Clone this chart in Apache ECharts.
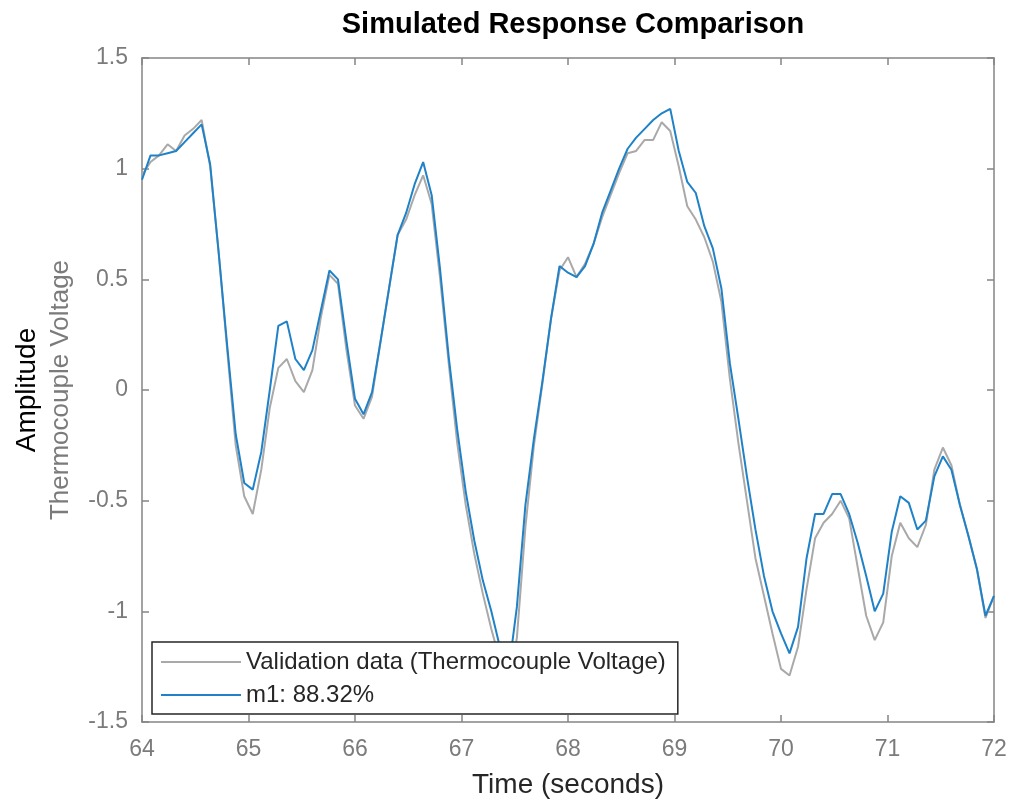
<!DOCTYPE html>
<html>
<head>
<meta charset="utf-8">
<script src="https://cdn.jsdelivr.net/npm/echarts@6/dist/echarts.min.js"></script>
<style>
  html, body { margin: 0; padding: 0; background: #fff; }
  #main { width: 1013px; height: 804px; }
</style>
</head>
<body>
<div id="main"></div>
<script>
// time axis (seconds), sample step 0.08 s
var timeSec = [
  64.00, 64.08, 64.16, 64.24, 64.32, 64.40, 64.48, 64.56, 64.64, 64.72,
  64.80, 64.88, 64.96, 65.04, 65.12, 65.20, 65.28, 65.36, 65.44, 65.52,
  65.60, 65.68, 65.76, 65.84, 65.92, 66.00, 66.08, 66.16, 66.24, 66.32,
  66.40, 66.48, 66.56, 66.64, 66.72, 66.80, 66.88, 66.96, 67.04, 67.12,
  67.20, 67.28, 67.36, 67.44, 67.52, 67.60, 67.68, 67.76, 67.84, 67.92,
  68.00, 68.08, 68.16, 68.24, 68.32, 68.40, 68.48, 68.56, 68.64, 68.72,
  68.80, 68.88, 68.96, 69.04, 69.12, 69.20, 69.28, 69.36, 69.44, 69.52,
  69.60, 69.68, 69.76, 69.84, 69.92, 70.00, 70.08, 70.16, 70.24, 70.32,
  70.40, 70.48, 70.56, 70.64, 70.72, 70.80, 70.88, 70.96, 71.04, 71.12,
  71.20, 71.28, 71.36, 71.44, 71.52, 71.60, 71.68, 71.76, 71.84, 71.92,
  72.00
];

// Validation data (Thermocouple Voltage)
var validation = [
  0.97, 1.03, 1.06, 1.11, 1.08, 1.15, 1.18, 1.22, 1.01, 0.62,
  0.18, -0.25, -0.48, -0.56, -0.36, -0.08, 0.10, 0.14, 0.04, -0.01,
  0.09, 0.33, 0.52, 0.48, 0.18, -0.07, -0.13, -0.03, 0.22, 0.46,
  0.70, 0.77, 0.88, 0.97, 0.84, 0.50, 0.12, -0.24, -0.52, -0.74,
  -0.92, -1.08, -1.22, -1.34, -1.12, -0.62, -0.25, 0.03, 0.32, 0.54,
  0.60, 0.51, 0.57, 0.66, 0.78, 0.88, 0.98, 1.07, 1.08, 1.13,
  1.13, 1.21, 1.17, 1.01, 0.83, 0.77, 0.69, 0.58, 0.40, 0.05,
  -0.24, -0.50, -0.76, -0.93, -1.10, -1.26, -1.29, -1.16, -0.90, -0.67,
  -0.60, -0.56, -0.50, -0.58, -0.80, -1.02, -1.13, -1.05, -0.75, -0.60,
  -0.67, -0.71, -0.61, -0.36, -0.26, -0.34, -0.52, -0.66, -0.81, -1.03,
  -0.93
];

// m1 simulated response
var m1 = [
  0.95, 1.06, 1.06, 1.07, 1.08, 1.12, 1.16, 1.20, 1.02, 0.62,
  0.20, -0.20, -0.42, -0.45, -0.28, 0.00, 0.29, 0.31, 0.14, 0.09,
  0.18, 0.36, 0.54, 0.50, 0.22, -0.04, -0.11, -0.01, 0.22, 0.46,
  0.70, 0.80, 0.93, 1.03, 0.88, 0.54, 0.15, -0.18, -0.46, -0.68,
  -0.86, -1.00, -1.16, -1.28, -0.98, -0.52, -0.22, 0.04, 0.32, 0.56,
  0.53, 0.51, 0.56, 0.66, 0.80, 0.90, 1.00, 1.09, 1.14, 1.18,
  1.22, 1.25, 1.27, 1.08, 0.94, 0.89, 0.74, 0.64, 0.46, 0.12,
  -0.13, -0.39, -0.63, -0.84, -1.00, -1.10, -1.19, -1.07, -0.76, -0.56,
  -0.56, -0.47, -0.47, -0.56, -0.69, -0.84, -1.00, -0.92, -0.64, -0.48,
  -0.51, -0.63, -0.59, -0.39, -0.30, -0.36, -0.52, -0.66, -0.81, -1.02,
  -0.93
];

var seriesNames = ["Validation data (Thermocouple Voltage)", "m1: 88.32%"];

function pairs(vals) {
  return timeSec.map(function (t, i) { return [t, vals[i]]; });
}

var axisGray = "#858585";
var labelGray = "#7b7b7b";
var fontName = "Liberation Sans";

var myChart = echarts.init(document.getElementById("main"));
var option = {
  animation: false,
  backgroundColor: "#fff",
  title: {
    text: "Simulated Response Comparison",
    left: 568,
    top: 5,
    textAlign: "center",
    textStyle: {
      color: "#000",
      fontFamily: fontName,
      fontSize: 29,
      fontWeight: "bold"
    }
  },
  grid: {
    left: 142,
    right: 19,
    top: 58,
    bottom: 80
  },
  legend: {
    orient: "vertical",
    left: 152,
    top: 642,
    padding: [8, 12, 7, 9],
    icon: "rect",
    itemWidth: 80,
    itemHeight: 2,
    itemGap: 9,
    backgroundColor: "#fff",
    borderColor: "#262626",
    borderWidth: 1.5,
    borderRadius: 0,
    textStyle: {
      color: "#262626",
      fontFamily: fontName,
      fontSize: 24
    },
    data: seriesNames
  },
  xAxis: [{
    type: "value",
    min: 64,
    max: 72,
    interval: 1,
    name: "Time (seconds)",
    nameLocation: "middle",
    nameGap: 49,
    nameTextStyle: {
      color: "#262626",
      fontFamily: fontName,
      fontSize: 28
    },
    splitLine: {show: false},
    axisLine: {onZero: false, lineStyle: {color: axisGray, width: 1.5}},
    axisTick: {inside: true, length: 7, lineStyle: {color: axisGray, width: 1.5}},
    axisLabel: {
      color: labelGray,
      fontFamily: fontName,
      fontSize: 23,
      margin: 16
    }
  }, {
    type: "value",
    position: "top",
    min: 64,
    max: 72,
    interval: 1,
    splitLine: {show: false},
    axisLine: {onZero: false, lineStyle: {color: axisGray, width: 1.5}},
    axisTick: {inside: true, length: 7, lineStyle: {color: axisGray, width: 1.5}},
    axisLabel: {show: false}
  }],
  yAxis: [{
    type: "value",
    min: -1.5,
    max: 1.5,
    interval: 0.5,
    name: "{a|Amplitude}\n{b|Thermocouple Voltage}",
    nameLocation: "middle",
    nameRotate: 90,
    nameGap: 66,
    nameTextStyle: {
      rich: {
        a: {color: "#000", fontFamily: fontName, fontSize: 28, lineHeight: 37},
        b: {color: labelGray, fontFamily: fontName, fontSize: 26, lineHeight: 30}
      }
    },
    splitLine: {show: false},
    axisLine: {onZero: false, lineStyle: {color: axisGray, width: 1.5}},
    axisTick: {inside: true, length: 7, lineStyle: {color: axisGray, width: 1.5}},
    axisLabel: {
      color: labelGray,
      fontFamily: fontName,
      fontSize: 23,
      margin: 14
    }
  }, {
    type: "value",
    position: "right",
    min: -1.5,
    max: 1.5,
    interval: 0.5,
    splitLine: {show: false},
    axisLine: {onZero: false, lineStyle: {color: axisGray, width: 1.5}},
    axisTick: {inside: true, length: 7, lineStyle: {color: axisGray, width: 1.5}},
    axisLabel: {show: false}
  }],
  series: [{
    name: seriesNames[0],
    type: "line",
    symbol: "none",
    clip: true,
    lineStyle: {color: "#a9a9a9", width: 2},
    itemStyle: {color: "#a9a9a9"},
    data: pairs(validation)
  }, {
    name: seriesNames[1],
    type: "line",
    symbol: "none",
    clip: true,
    lineStyle: {color: "#1f82c8", width: 2},
    itemStyle: {color: "#1f82c8"},
    data: pairs(m1)
  }]
};
myChart.setOption(option);
</script>
</body>
</html>
